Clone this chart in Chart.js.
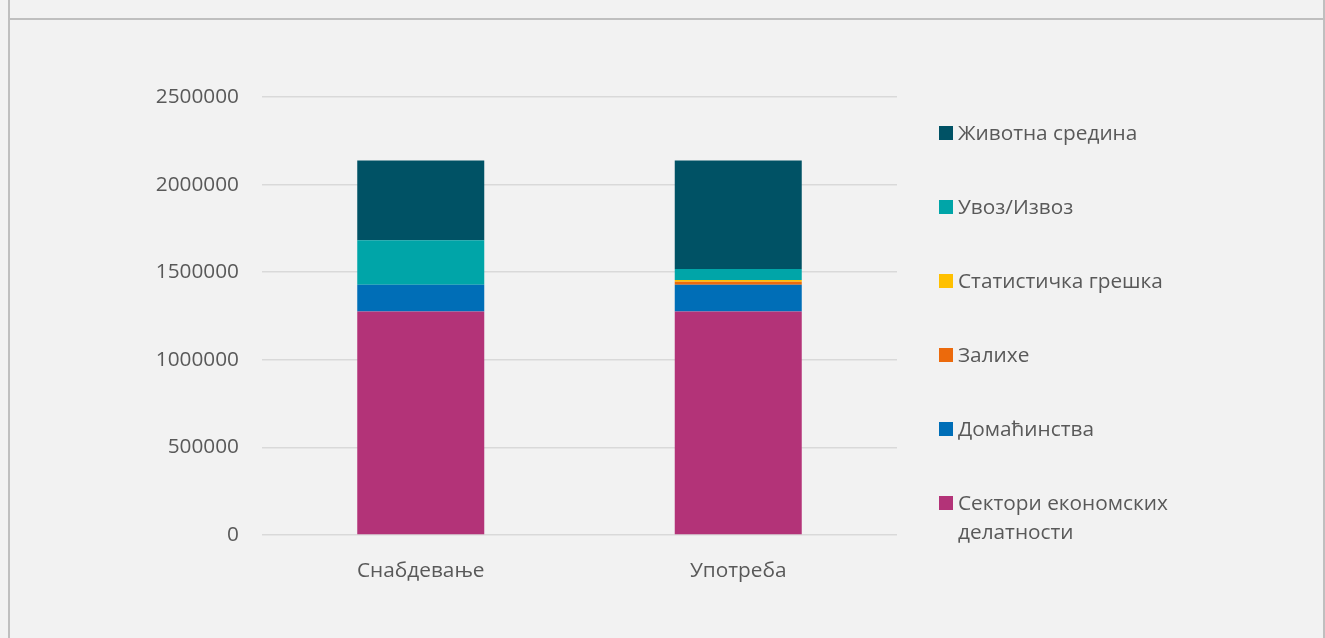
<!DOCTYPE html>
<html lang="sr">
<head>
    <meta charset="UTF-8">
    <title>Снабдевање и употреба</title>
    <script src="https://cdn.jsdelivr.net/npm/chart.js"></script>
    <style>
        body, html {
            margin: 0;
            padding: 0;
            width: 1325px;
            height: 638px;
            background: #F2F2F2;
            overflow: hidden;
            font-family: "Open Sans", sans-serif;
        }
        .frame-left, .frame-right {
            position: absolute;
            top: 0;
            width: 2px;
            height: 638px;
            background: #BFBFBF;
        }
        .frame-left { left: 8px; }
        .frame-right { left: 1323px; }
        .frame-top {
            position: absolute;
            top: 18px;
            left: 8px;
            width: 1317px;
            height: 2px;
            background: #BFBFBF;
        }
        .chart-container {
            position: absolute;
            left: 0;
            top: 0;
            width: 1325px;
            height: 638px;
        }
        #legend {
            position: absolute;
            left: 939px;
            top: 0;
            margin: 0;
            padding: 0;
            list-style: none;
            color: #595959;
            font-size: 20.8px;
            line-height: 29px;
        }
        #legend li {
            position: absolute;
            left: 0;
            width: 250px;
        }
        #legend .box {
            position: absolute;
            left: 0;
            top: 8px;
            width: 14px;
            height: 14px;
        }
        #legend .text {
            display: block;
            margin-left: 19px;
            width: 225px;
        }
    </style>
</head>
<body>
    <div class="frame-left"></div>
    <div class="frame-right"></div>
    <div class="frame-top"></div>
    <div class="chart-container">
        <canvas id="flowChart"></canvas>
    </div>
    <ul id="legend"></ul>

    <script>
        // Data
        const categories = ['Снабдевање', 'Употреба'];
        const seriesNames = ['Сектори економских делатности', 'Домаћинства', 'Залихе', 'Статистичка грешка', 'Увоз/Извоз', 'Животна средина'];
        const sektori = [1276000, 1276000];
        const domacinstva = [152000, 152000];
        const zalihe = [0, 17000];
        const greska = [0, 10000];
        const uvozIzvoz = [255000, 63000];
        const zivotnaSredina = [455000, 620000];
        const yTicks = [0, 500000, 1000000, 1500000, 2000000, 2500000];

        const seriesValues = [sektori, domacinstva, zalihe, greska, uvozIzvoz, zivotnaSredina];
        const colors = ['#B33378', '#006EB7', '#EC6A0C', '#FFC000', '#00A5A8', '#005265'];

        const datasets = seriesNames.map((name, i) => ({
            label: name,
            data: seriesValues[i],
            backgroundColor: colors[i],
            borderWidth: 0,
            barPercentage: 0.4,
            categoryPercentage: 1.0
        }));

        const font = { family: '"Open Sans", sans-serif', size: 20.8 };

        const ctx = document.getElementById('flowChart').getContext('2d');
        const flowChart = new Chart(ctx, {
            type: 'bar',
            data: {
                labels: categories,
                datasets: datasets
            },
            options: {
                responsive: true,
                maintainAspectRatio: false,
                animation: false,
                layout: {
                    padding: { left: 0, right: 428, top: 97, bottom: 40 }
                },
                plugins: {
                    legend: { display: false },
                    tooltip: { enabled: false }
                },
                scales: {
                    x: {
                        stacked: true,
                        grid: { display: false },
                        border: { display: false },
                        ticks: { color: '#595959', font: font, padding: 16 },
                        afterFit: axis => { axis.height = 63; }
                    },
                    y: {
                        stacked: true,
                        min: yTicks[0],
                        max: yTicks[yTicks.length - 1],
                        afterBuildTicks: axis => { axis.ticks = yTicks.map(v => ({ value: v })); },
                        grid: { color: '#D9D9D9', lineWidth: 1.5, drawTicks: false },
                        border: { display: false },
                        ticks: { color: '#595959', font: font, padding: 23, callback: v => String(v) },
                        afterFit: axis => { axis.width = 262; }
                    }
                }
            }
        });

        // Legend, top item = last stacked series
        const legendTops = [118, 192, 266, 340, 414, 488];
        const legend = document.getElementById('legend');
        datasets.slice().reverse().forEach((ds, i) => {
            const li = document.createElement('li');
            li.style.top = legendTops[i] + 'px';
            li.innerHTML = '<span class="box" style="background:' + ds.backgroundColor + '"></span><span class="text">' + ds.label + '</span>';
            legend.appendChild(li);
        });
    </script>
</body>
</html>
